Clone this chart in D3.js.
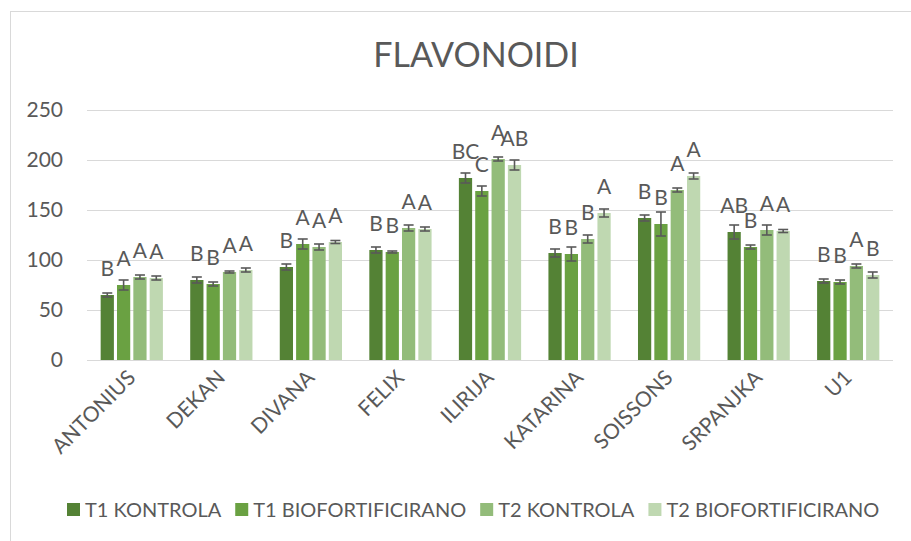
<!DOCTYPE html>
<html>
<head>
<meta charset="utf-8">
<script src="https://cdn.jsdelivr.net/npm/d3@7/dist/d3.min.js"></script>
<style>
  html, body { margin: 0; padding: 0; background: #fff; }
  svg { display: block; font-family: Lato, "Open Sans", sans-serif; }
</style>
</head>
<body>
<svg id="chart" width="911" height="541"></svg>
<script>
// Cultivars on the x axis
const categories = ["ANTONIUS", "DEKAN", "DIVANA", "FELIX", "ILIRIJA", "KATARINA", "SOISSONS", "SRPANJKA", "U1"];
const seriesNames = ["T1 KONTROLA", "T1 BIOFORTIFICIRANO", "T2 KONTROLA", "T2 BIOFORTIFICIRANO"];

// Mean flavonoid content per series
const t1Kontrola = [65, 80, 93, 110, 182, 107, 142, 128, 79];
const t1Bio      = [75, 76, 116, 108, 169, 106, 136, 113, 78];
const t2Kontrola = [83, 88, 113, 132, 201, 121, 170, 130, 94];
const t2Bio      = [82, 90, 118, 131, 195, 147, 184, 129, 85];

// Standard errors
const t1KontrolaErr = [2, 3, 3, 3, 5, 4, 3, 7, 2];
const t1BioErr      = [5, 2, 5, 1, 5, 7, 12, 2, 2];
const t2KontrolaErr = [2, 1, 3, 3, 2, 4, 2, 5, 2];
const t2BioErr      = [2, 2, 1.5, 2, 5, 4, 3, 1.5, 3];

// Significance letters
const t1KontrolaSig = ["B", "B", "B", "B", "BC", "B", "B", "AB", "B"];
const t1BioSig      = ["A", "B", "A", "B", "C", "B", "B", "B", "B"];
const t2KontrolaSig = ["A", "A", "A", "A", "A", "B", "A", "A", "A"];
const t2BioSig      = ["A", "A", "A", "A", "AB", "A", "A", "A", "B"];

const yTicks = [0, 50, 100, 150, 200, 250];

const values = [t1Kontrola, t1Bio, t2Kontrola, t2Bio];
const errors = [t1KontrolaErr, t1BioErr, t2KontrolaErr, t2BioErr];
const sigs = [t1KontrolaSig, t1BioSig, t2KontrolaSig, t2BioSig];
const colors = ["#548235", "#6AA142", "#93BC7A", "#BFD8B1"];

const svg = d3.select("#chart");
const textColor = "#595959";

// Outer chart frame
svg.append("rect")
  .attr("x", 10.5).attr("y", 11.5)
  .attr("width", 960).attr("height", 600)
  .attr("fill", "none").attr("stroke", "#d9d9d9").attr("stroke-width", 1);

const plot = { left: 87, right: 893, top: 110, bottom: 360 };

const x0 = d3.scaleBand()
  .domain(categories)
  .range([plot.left, plot.right])
  .paddingInner(0.305)
  .paddingOuter(0.1525);

const x1 = d3.scaleBand()
  .domain(d3.range(seriesNames.length))
  .range([0, x0.bandwidth()])
  .paddingInner(0.19)
  .paddingOuter(0);

const y = d3.scaleLinear().domain([0, 250]).range([plot.bottom, plot.top]);

// Title
svg.append("text")
  .attr("x", 476).attr("y", 67)
  .attr("text-anchor", "middle")
  .attr("font-size", 34)
  .attr("fill", textColor)
  .text("FLAVONOIDI");

// Horizontal gridlines and y axis labels
const yAxis = d3.axisLeft(y).tickValues(yTicks).tickSize(-(plot.right - plot.left)).tickPadding(24);
const gy = svg.append("g").attr("transform", `translate(${plot.left},0)`).call(yAxis);
gy.select(".domain").remove();
gy.selectAll(".tick line").attr("stroke", "#d9d9d9").attr("stroke-width", 1.2);
gy.selectAll(".tick text")
  .attr("fill", textColor)
  .attr("font-size", 21)
  .attr("font-family", "Lato, 'Open Sans', sans-serif");

// Category axis with rotated labels
const xAxis = d3.axisBottom(x0).tickSize(0).tickPadding(0);
const gx = svg.append("g").attr("transform", `translate(0,${plot.bottom})`).call(xAxis);
gx.select(".domain").remove();
gx.selectAll(".tick text")
  .attr("fill", textColor)
  .attr("font-size", 21)
  .attr("font-family", "Lato, 'Open Sans', sans-serif")
  .attr("text-anchor", "end")
  .attr("dy", 0)
  .attr("transform", "translate(5,19) rotate(-45)");

// Bars, error bars and letters
const groups = svg.append("g").selectAll("g")
  .data(categories)
  .join("g")
  .attr("transform", d => `translate(${x0(d)},0)`);

values.forEach((series, s) => {
  groups.each(function(cat, i) {
    const g = d3.select(this);
    const v = series[i];
    const e = errors[s][i];
    const bx = x1(s);
    const bw = x1.bandwidth();
    const cx = bx + bw / 2;
    g.append("rect")
      .attr("x", bx).attr("y", y(v))
      .attr("width", bw).attr("height", y(0) - y(v))
      .attr("fill", colors[s]);
    const eb = g.append("g").attr("stroke", "#595959").attr("stroke-width", 1.6);
    eb.append("line").attr("x1", cx).attr("x2", cx).attr("y1", y(v + e)).attr("y2", y(v - e));
    eb.append("line").attr("x1", cx - 5).attr("x2", cx + 5).attr("y1", y(v + e)).attr("y2", y(v + e));
    eb.append("line").attr("x1", cx - 5).attr("x2", cx + 5).attr("y1", y(v - e)).attr("y2", y(v - e));
    g.append("text")
      .attr("x", cx).attr("y", y(v) - 19)
      .attr("text-anchor", "middle")
      .attr("font-size", 21)
      .attr("fill", textColor)
      .text(sigs[s][i]);
  });
});

// Legend
const legend = svg.append("g").attr("transform", "translate(0,517)");
let lx = 67;
seriesNames.forEach((name, s) => {
  const item = legend.append("g").attr("transform", `translate(${lx},0)`);
  item.append("rect").attr("x", 0).attr("y", -14).attr("width", 13).attr("height", 13).attr("fill", colors[s]);
  const t = item.append("text")
    .attr("x", 18).attr("y", 0)
    .attr("font-size", 20)
    .attr("fill", textColor)
    .text(name);
  lx += 18 + t.node().getComputedTextLength() + 14;
});
</script>
</body>
</html>
